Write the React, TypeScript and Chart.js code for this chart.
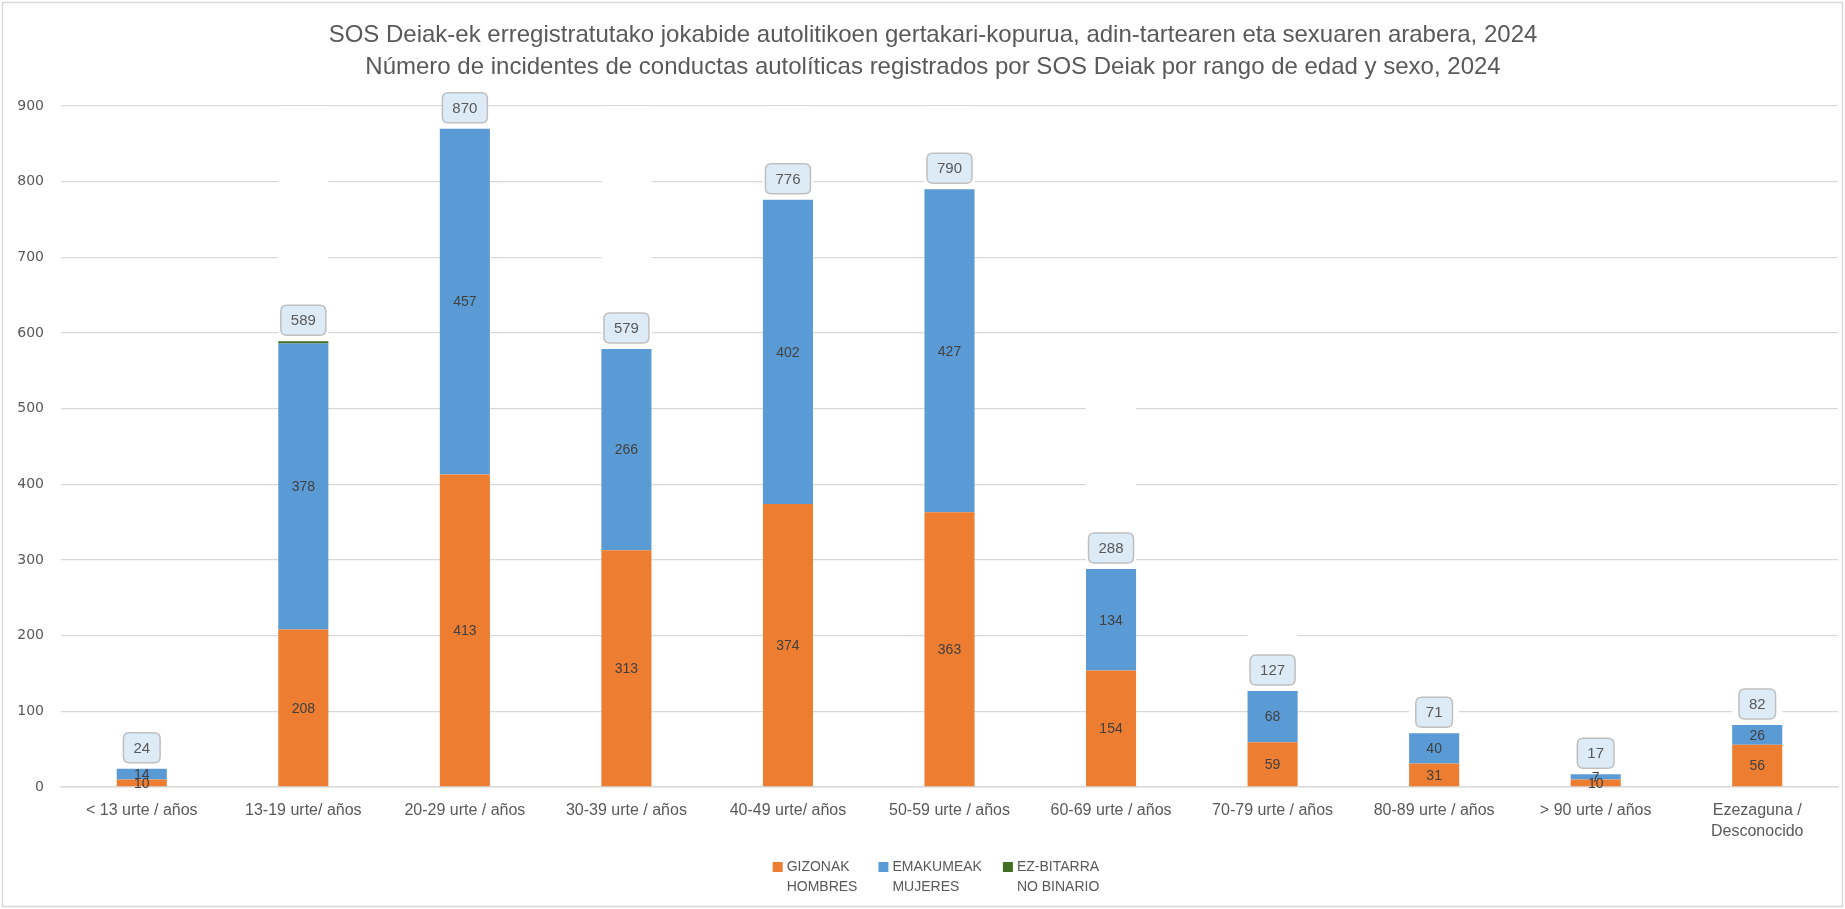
import { useEffect, useRef } from 'react';
import { Chart, registerables } from 'chart.js';

Chart.register(...registerables);

const TITLE_LINES = [
  'SOS Deiak-ek erregistratutako jokabide autolitikoen gertakari-kopurua, adin-tartearen eta sexuaren arabera, 2024',
  'Número de incidentes de conductas autolíticas registrados por SOS Deiak por rango de edad y sexo, 2024',
];

const CATEGORIES: (string | string[])[] = [
  '< 13 urte / años',
  '13-19 urte/ años',
  '20-29 urte / años',
  '30-39 urte / años',
  '40-49 urte/ años',
  '50-59 urte / años',
  '60-69 urte / años',
  '70-79 urte / años',
  '80-89 urte / años',
  '> 90 urte / años',
  ['Ezezaguna /', 'Desconocido'],
];

const GIZONAK = [10, 208, 413, 313, 374, 363, 154, 59, 31, 10, 56];
const EMAKUMEAK = [14, 378, 457, 266, 402, 427, 134, 68, 40, 7, 26];
const EZ_BITARRA = [0, 3, 0, 0, 0, 0, 0, 0, 0, 0, 0];

const SERIES_LABELS = [
  ['GIZONAK', 'HOMBRES'],
  ['EMAKUMEAK', 'MUJERES'],
  ['EZ-BITARRA', 'NO BINARIO'],
];
const SERIES_COLORS = ['#ED7D31', '#5B9BD5', '#3F6E24'];

const Y_MIN = 0;
const Y_MAX = 900;
const Y_STEP = 100;

const TOTALS = GIZONAK.map((g, i) => g + EMAKUMEAK[i] + EZ_BITARRA[i]);

const TEXT_GREY = '#595959';
const GRID_GREY = '#D9D9D9';

function roundRectPath(ctx: CanvasRenderingContext2D, x: number, y: number, w: number, h: number, r: number) {
  ctx.beginPath();
  ctx.moveTo(x + r, y);
  ctx.lineTo(x + w - r, y);
  ctx.quadraticCurveTo(x + w, y, x + w, y + r);
  ctx.lineTo(x + w, y + h - r);
  ctx.quadraticCurveTo(x + w, y + h, x + w - r, y + h);
  ctx.lineTo(x + r, y + h);
  ctx.quadraticCurveTo(x, y + h, x, y + h - r);
  ctx.lineTo(x, y + r);
  ctx.quadraticCurveTo(x, y, x + r, y);
  ctx.closePath();
}

const framePlugin = {
  id: 'frame',
  beforeDraw(chart: any) {
    const ctx = chart.ctx as CanvasRenderingContext2D;
    ctx.save();
    ctx.fillStyle = '#FFFFFF';
    ctx.fillRect(0, 0, chart.width, chart.height);
    ctx.strokeStyle = GRID_GREY;
    ctx.lineWidth = 1.5;
    ctx.strokeRect(2.5, 2.5, chart.width - 5, chart.height - 5);
    ctx.restore();
  },
};

const titlePlugin = {
  id: 'customTitle',
  afterDraw(chart: any) {
    const ctx = chart.ctx as CanvasRenderingContext2D;
    ctx.save();
    ctx.font = '24px "Liberation Sans"';
    ctx.fillStyle = TEXT_GREY;
    ctx.textAlign = 'center';
    ctx.textBaseline = 'middle';
    ctx.fillText(TITLE_LINES[0], 933, 35);
    ctx.fillText(TITLE_LINES[1], 933, 67);
    ctx.restore();
  },
};

const labelsPlugin = {
  id: 'valueLabels',
  afterDatasetsDraw(chart: any) {
    const ctx = chart.ctx as CanvasRenderingContext2D;
    ctx.save();
    ctx.textAlign = 'center';
    ctx.textBaseline = 'middle';
    ctx.font = '14px "Liberation Sans"';
    ctx.fillStyle = '#404040';
    [0, 1].forEach((di) => {
      const meta = chart.getDatasetMeta(di);
      meta.data.forEach((el: any, i: number) => {
        const v = chart.data.datasets[di].data[i];
        if (!v) return;
        const { x, y, base } = el.getProps(['x', 'y', 'base'], true);
        ctx.fillText(String(v), x, (y + base) / 2 + 1);
      });
    });
    const tm = chart.getDatasetMeta(3);
    ctx.font = '15px "Liberation Sans"';
    tm.data.forEach((el: any, i: number) => {
      const text = String(chart.data.datasets[3].data[i]);
      const { x, base } = el.getProps(['x', 'base'], true);
      const w = ctx.measureText(text).width + 20;
      const h = 30;
      const bx = x - w / 2;
      const by = base - 6 - h;
      roundRectPath(ctx, bx, by, w, h, 6);
      ctx.fillStyle = '#DDEBF7';
      ctx.fill();
      ctx.strokeStyle = '#BFBFBF';
      ctx.lineWidth = 1.5;
      ctx.stroke();
      ctx.fillStyle = TEXT_GREY;
      ctx.fillText(text, x, by + h / 2 + 1);
    });
    ctx.restore();
  },
};

const legendPlugin = {
  id: 'customLegend',
  afterDraw(chart: any) {
    const ctx = chart.ctx as CanvasRenderingContext2D;
    ctx.save();
    ctx.font = '14px "Liberation Sans"';
    ctx.textBaseline = 'middle';
    ctx.textAlign = 'left';
    const box = 10;
    const gap = 4;
    const itemGap = 21;
    const items = [0, 1, 2].map((i) => {
      const lines = chart.data.datasets[i].label as unknown as string[];
      const tw = Math.max(...SERIES_LABELS[i].map((t) => ctx.measureText(t).width));
      return { lines: SERIES_LABELS[i], color: chart.data.datasets[i].backgroundColor, w: box + gap + tw, lbl: lines };
    });
    const total = items.reduce((a, it) => a + it.w, 0) + itemGap * (items.length - 1);
    let x = 936 - total / 2;
    items.forEach((it) => {
      ctx.fillStyle = it.color;
      ctx.fillRect(x, 862, box, box);
      ctx.fillStyle = TEXT_GREY;
      ctx.fillText(it.lines[0], x + box + gap, 867);
      ctx.fillText(it.lines[1], x + box + gap, 887);
      x += it.w + itemGap;
    });
    ctx.restore();
  },
};

export default function App() {
  const ref = useRef<HTMLCanvasElement | null>(null);

  useEffect(() => {
    document.body.style.margin = '0';
    const canvas = ref.current;
    if (!canvas) return;
    const chart = new Chart(canvas, {
      type: 'bar',
      data: {
        labels: CATEGORIES as any,
        datasets: [
          { label: SERIES_LABELS[0].join(' '), data: GIZONAK, backgroundColor: SERIES_COLORS[0], stack: 's' },
          { label: SERIES_LABELS[1].join(' '), data: EMAKUMEAK, backgroundColor: SERIES_COLORS[1], stack: 's' },
          { label: SERIES_LABELS[2].join(' '), data: EZ_BITARRA, backgroundColor: SERIES_COLORS[2], stack: 's' },
          { label: 'Total', data: TOTALS, backgroundColor: '#FFFFFF', stack: 's' },
        ],
      },
      options: {
        responsive: false,
        animation: false,
        devicePixelRatio: 1,
        datasets: { bar: { categoryPercentage: 1, barPercentage: 0.31, borderWidth: 0 } },
        layout: { padding: { top: 106, right: 7, left: 0, bottom: 0 } },
        plugins: {
          legend: { display: false },
          title: { display: false },
          tooltip: { enabled: false },
        },
        scales: {
          x: {
            stacked: true,
            grid: { display: false, drawTicks: false },
            border: { display: true, color: GRID_GREY, width: 1.5 },
            ticks: {
              color: TEXT_GREY,
              font: { family: '"Liberation Sans"', size: 16, lineHeight: 1.3 },
              padding: 13,
              maxRotation: 0,
              autoSkip: false,
            },
            afterFit: (s: any) => {
              s.height = 122;
            },
          },
          y: {
            stacked: true,
            min: Y_MIN,
            max: Y_MAX,
            grid: { color: GRID_GREY, lineWidth: 1.3, drawTicks: false },
            border: { display: false },
            ticks: {
              stepSize: Y_STEP,
              color: TEXT_GREY,
              font: { family: '"DejaVu Sans"', size: 14 },
              padding: 17,
            },
            afterFit: (s: any) => {
              s.width = 61;
            },
          },
        },
      },
      plugins: [framePlugin, labelsPlugin, titlePlugin, legendPlugin],
    });
    return () => chart.destroy();
  }, []);

  return (
    <div style={{ width: 1845, height: 909 }}>
      <canvas ref={ref} width={1845} height={909} />
    </div>
  );
}
